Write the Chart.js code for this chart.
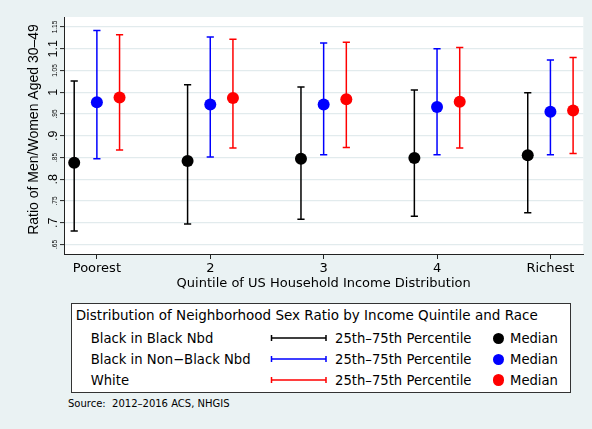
<!DOCTYPE html>
<html>
<head>
<meta charset="utf-8">
<script src="https://cdn.jsdelivr.net/npm/chart.js@4"></script>
<style>
  html, body { margin: 0; padding: 0; }
  body {
    width: 592px; height: 429px; position: relative; overflow: hidden;
    background: #EAF2F3; color: #000;
    font-family: "DejaVu Sans", "Liberation Sans", Arial, sans-serif;
  }
  #plot { position: absolute; left: 0; top: 0; }
  .txt { position: absolute; font-size: 13.2px; line-height: 16px; white-space: pre; }
  #legendTitle { font-size: 13.5px; }
  #legend {
    position: absolute; left: 70.5px; top: 302.5px; width: 500px; height: 90px;
    box-sizing: border-box; border: 1px solid #333; background: #fff;
  }
  .sym { position: absolute; overflow: visible; }
  .dot { position: absolute; width: 11.6px; height: 11.6px; border-radius: 50%; }
  #source { position: absolute; left: 68px; top: 398.4px; font-size: 10px; line-height: 12px; white-space: pre; }
</style>
</head>
<body>
<canvas id="plot" width="592" height="300"></canvas>
<div id="legend"></div>
<div class="txt" id="legendTitle"></div>
<div id="legendRows"></div>
<div id="source">Source:  2012–2016 ACS, NHGIS</div>

<script>
// Income quintiles (x axis)
const quintileLabels = ['Poorest', '2', '3', '4', 'Richest'];
const quintilePos = [1, 2, 3, 4, 5];

// Y axis ticks: every .05, the tenths printed large, the half-steps small
const yTickValues = [0.65, 0.70, 0.75, 0.80, 0.85, 0.90, 0.95, 1.00, 1.05, 1.10, 1.15];
const yTickLabels = ['.65', '.7', '.75', '.8', '.85', '.9', '.95', '1', '1.05', '1.1', '1.15'];
const yMajorLabels = ['.7', '.8', '.9', '1', '1.1'];

// Black residents of majority-Black neighborhoods
const blackNbdMedian = [0.838, 0.842, 0.847, 0.849, 0.855];
const blackNbdP25    = [0.681, 0.697, 0.708, 0.715, 0.723];
const blackNbdP75    = [1.026, 1.017, 1.012, 1.005, 0.999];

// Black residents of other neighborhoods
const blackOtherMedian = [0.977, 0.972, 0.972, 0.966, 0.955];
const blackOtherP25    = [0.847, 0.851, 0.856, 0.856, 0.856];
const blackOtherP75    = [1.142, 1.127, 1.113, 1.100, 1.074];

// White residents
const whiteMedian = [0.988, 0.987, 0.984, 0.978, 0.958];
const whiteP25    = [0.867, 0.872, 0.873, 0.872, 0.859];
const whiteP75    = [1.132, 1.122, 1.115, 1.103, 1.080];

const seriesNames = ['Black in Black Nbd', 'Black in Non\u2212Black Nbd', 'White'];
const legendTitleText = 'Distribution of Neighborhood Sex Ratio by Income Quintile and Race';
const rangeLabel = '25th\u201375th Percentile';
const medianLabel = 'Median';
const xTitle = 'Quintile of US Household Income Distribution';
const yTitle = 'Ratio of Men/Women Aged 30\u201349';

// Styling per series: colour and horizontal dodge within a quintile
const seriesStyle = [
  { color: '#000000', dodge: -0.2 },
  { color: '#0000FF', dodge: 0 },
  { color: '#FF0000', dodge: 0.2 }
];
const seriesData = [
  { med: blackNbdMedian, lo: blackNbdP25, hi: blackNbdP75 },
  { med: blackOtherMedian, lo: blackOtherP25, hi: blackOtherP75 },
  { med: whiteMedian, lo: whiteP25, hi: whiteP75 }
];

const AXIS_FONT = '"DejaVu Sans", "Liberation Sans", Arial, sans-serif';
const TITLE_FONT = '"Liberation Sans", Arial, Helvetica, sans-serif';

const datasets = [];
seriesData.forEach((s, k) => {
  const st = seriesStyle[k];
  // whiskers 25th-75th percentile with end caps; a null y breaks the line between quintiles
  const whisker = [];
  quintilePos.forEach((q, i) => {
    whisker.push({ x: q + st.dodge, y: s.lo[i] });
    whisker.push({ x: q + st.dodge, y: s.hi[i] });
    whisker.push({ x: q + st.dodge, y: null });
  });
  datasets.push({
    type: 'scatter', label: seriesNames[k] + ' range', data: whisker,
    showLine: true, spanGaps: false, borderColor: st.color, borderWidth: 1.5,
    pointStyle: 'line', pointRadius: 3.6, pointHoverRadius: 3.6,
    pointBorderColor: st.color, pointBorderWidth: 1.5, order: 2
  });
  // median marker
  datasets.push({
    type: 'scatter', label: seriesNames[k] + ' median',
    data: quintilePos.map((q, i) => ({ x: q + st.dodge, y: s.med[i] })),
    pointStyle: 'circle', pointRadius: 6, pointHoverRadius: 6,
    pointBackgroundColor: st.color, pointBorderWidth: 0, order: 1
  });
});

// White plot region, rotated y labels and y title
const plotDecor = {
  id: 'plotDecor',
  beforeDraw(chart) {
    const { ctx, chartArea: a } = chart;
    ctx.save();
    ctx.fillStyle = '#FFFFFF';
    ctx.fillRect(a.left, a.top, a.right - a.left, a.bottom - a.top);
    ctx.restore();
  },
  afterDraw(chart) {
    const { ctx } = chart;
    const y = chart.scales.y;
    ctx.save();
    ctx.fillStyle = '#000';
    ctx.textAlign = 'center';
    ctx.textBaseline = 'alphabetic';
    yTickValues.forEach((v, i) => {
      const lbl = yTickLabels[i];
      const major = yMajorLabels.includes(lbl);
      const py = y.getPixelForValue(v);
      ctx.save();
      ctx.translate(57, py);
      ctx.rotate(-Math.PI / 2);
      ctx.font = (major ? 12.5 : 6.5) + 'px ' + TITLE_FONT;
      ctx.fillText(lbl, 0, 0);
      ctx.restore();
    });
    const mid = (chart.chartArea.top + chart.chartArea.bottom) / 2 - 6;
    ctx.translate(38, mid);
    ctx.rotate(-Math.PI / 2);
    ctx.font = '14px ' + TITLE_FONT;
    ctx.fillText(yTitle, 0, 0);
    ctx.restore();
  }
};

new Chart(document.getElementById('plot'), {
  type: 'scatter',
  data: { datasets },
  options: {
    responsive: false,
    animation: false,
    events: [],
    layout: { padding: { left: 0, top: 17, right: 8.7, bottom: 0 } },
    plugins: { legend: { display: false }, tooltip: { enabled: false } },
    scales: {
      x: {
        type: 'linear', min: 0.71, max: 5.29, offset: false,
        afterBuildTicks: (sc) => { sc.ticks = quintilePos.map(v => ({ value: v })); },
        afterFit: (sc) => { sc.height = 46; },
        ticks: {
          callback: (v, i) => quintileLabels[i],
          font: { family: AXIS_FONT, size: 13 }, color: '#000',
          padding: 2, maxRotation: 0, minRotation: 0, autoSkip: false
        },
        grid: { drawOnChartArea: false, drawTicks: true, tickLength: 5, tickColor: '#222', tickWidth: 1 },
        border: { display: true, color: '#222', width: 1 },
        title: {
          display: true, text: xTitle, color: '#000',
          font: { family: AXIS_FONT, size: 13 }, padding: { top: 0, bottom: 8.6 }
        }
      },
      y: {
        type: 'linear', min: 0.628, max: 1.173,
        afterBuildTicks: (sc) => { sc.ticks = yTickValues.map(v => ({ value: v })); },
        afterFit: (sc) => { sc.width = 64; },
        ticks: { display: false },
        grid: { color: '#E2EBED', lineWidth: 1.2, drawTicks: true, tickLength: 4, tickColor: '#222', tickWidth: 1 },
        border: { display: true, color: '#222', width: 1 }
      }
    }
  },
  plugins: [plotDecor]
});

// Legend box
const titleEl = document.getElementById('legendTitle');
titleEl.textContent = legendTitleText;
Object.assign(titleEl.style, { left: '75.7px', top: '307.3px' });
const rowsBox = document.getElementById('legendRows');
const rowCentres = [338.3, 359.3, 380];
const SVGNS = 'http://www.w3.org/2000/svg';
seriesNames.forEach((name, k) => {
  const c = rowCentres[k];
  const color = seriesStyle[k].color;
  const addText = (left, text) => {
    const el = document.createElement('div');
    el.className = 'txt';
    el.style.left = left + 'px';
    el.style.top = (c - 7.5) + 'px';
    el.textContent = text;
    rowsBox.appendChild(el);
  };
  addText(90.7, name);
  // range symbol: horizontal line with end caps
  const svg = document.createElementNS(SVGNS, 'svg');
  svg.setAttribute('class', 'sym');
  svg.setAttribute('width', '60');
  svg.setAttribute('height', '10');
  svg.style.left = '269px';
  svg.style.top = (c - 5) + 'px';
  const d = 'M2.5 5 H57 M2.5 2 V8 M57 2 V8';
  const path = document.createElementNS(SVGNS, 'path');
  path.setAttribute('d', d);
  path.setAttribute('stroke', color);
  path.setAttribute('stroke-width', '1.5');
  path.setAttribute('fill', 'none');
  svg.appendChild(path);
  rowsBox.appendChild(svg);
  addText(335, rangeLabel);
  const dot = document.createElement('div');
  dot.className = 'dot';
  dot.style.left = (498.3 - 5.8) + 'px';
  dot.style.top = (c - 5.8) + 'px';
  dot.style.background = color;
  rowsBox.appendChild(dot);
  addText(510, medianLabel);
});
</script>
</body>
</html>
